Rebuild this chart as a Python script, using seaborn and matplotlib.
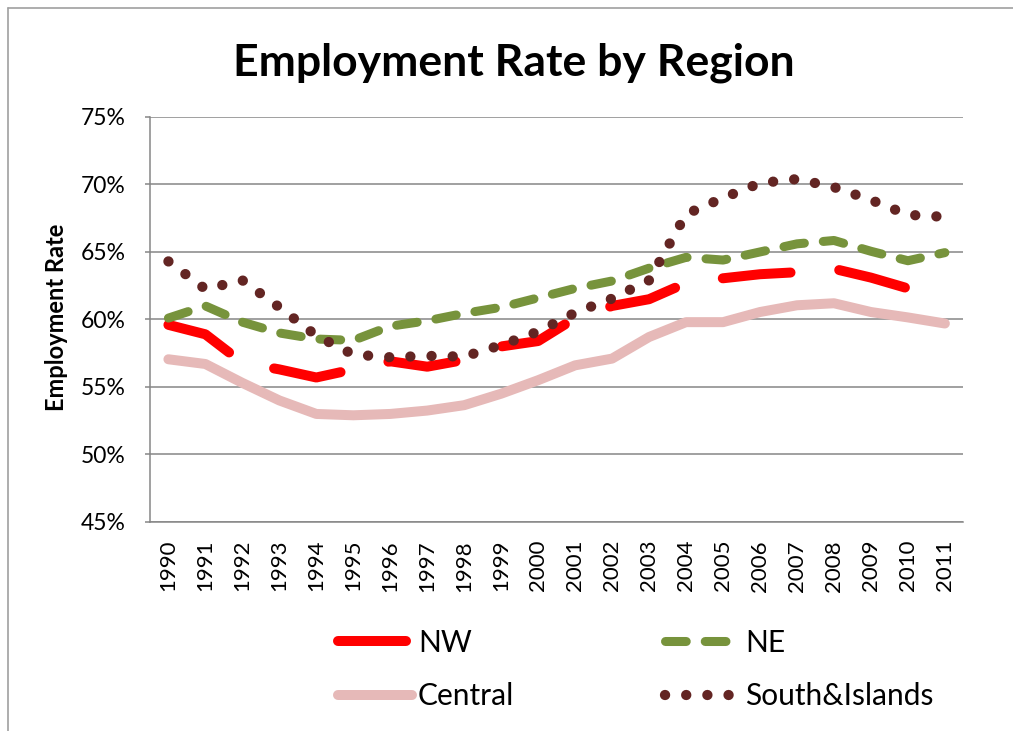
import matplotlib
matplotlib.use("Agg")
import matplotlib.pyplot as plt
import pandas as pd
import seaborn as sns
from matplotlib.lines import Line2D
from matplotlib.ticker import PercentFormatter


YEARS = list(range(1990, 2012))
NW = [59.6, 58.9, 56.8, 56.3, 55.7, 56.3, 56.9, 56.5, 57.0, 58.0, 58.4,
      60.1, 61.0, 61.5, 62.7, 63.05, 63.35, 63.5, 63.75, 63.1, 62.3, 62.0]
NE = [60.1, 61.0, 59.8, 59.0, 58.55, 58.45, 59.5, 59.9, 60.45, 60.9, 61.6,
      62.3, 62.85, 63.8, 64.6, 64.4, 65.0, 65.6, 65.85, 65.05, 64.35, 64.95]
CENTRAL = [57.05, 56.7, 55.3, 54.0, 53.0, 52.9, 53.0, 53.25, 53.65, 54.5, 55.5,
           56.6, 57.1, 58.7, 59.8, 59.8, 60.55, 61.05, 61.2, 60.55, 60.15, 59.7]
SOUTH = [64.3, 62.25, 62.9, 60.9, 58.8, 57.4, 57.2, 57.3, 57.25, 58.1, 59.1,
         60.5, 61.55, 62.9, 67.8, 69.0, 70.1, 70.4, 69.8, 68.85, 67.75, 67.6]

SERIES = ["NW", "NE", "Central", "South&Islands"]
Y_TICKS = [45, 50, 55, 60, 65, 70, 75]

GRID = "#868686"


def build_frame() -> pd.DataFrame:
    df = pd.DataFrame({"year": YEARS, "NW": NW, "NE": NE,
                       "Central": CENTRAL, "South&Islands": SOUTH})
    return df.melt(id_vars="year", var_name="region", value_name="rate")


def main() -> None:
    sns.set_theme(style="white")
    plt.rcParams["font.family"] = ["Lato", "DejaVu Sans"]
    plt.rcParams["text.color"] = "black"

    df = build_frame()
    fig = plt.figure(figsize=(10.13, 7.31), dpi=100)
    ax = fig.add_axes([0.148, 0.286, 0.803, 0.554])

    styles = {
        "NW": dict(color="#FF0000", linewidth=7.2, linestyle=(0, (6.8, 4.9))),
        "NE": dict(color="#77933C", linewidth=6.5, linestyle=(0, (2.3, 2.1))),
        "Central": dict(color="#E6B9B8", linewidth=7.2, linestyle="-"),
        "South&Islands": dict(color="#632523", linewidth=7.4, linestyle=(0, (0.01, 2.05))),
    }
    handles = {}
    for name in SERIES:
        sub = df[df["region"] == name]
        sns.lineplot(data=sub, x="year", y="rate", ax=ax, sort=False,
                     dash_capstyle="round", solid_capstyle="round",
                     solid_joinstyle="round", dash_joinstyle="round",
                     **styles[name])
        handles[name] = ax.lines[-1]

    ax.set_xlim(1989.5, 2011.5)
    ax.set_ylim(45, 75)
    ax.set_yticks(Y_TICKS)
    ax.yaxis.set_major_formatter(PercentFormatter(decimals=0))
    ax.set_xticks(YEARS)
    ax.set_xticklabels([str(y) for y in YEARS], rotation=90)
    ax.grid(axis="y", color=GRID, linewidth=1.1)
    ax.set_axisbelow(True)
    for side in ["top", "right"]:
        ax.spines[side].set_visible(False)
    for side in ["left", "bottom"]:
        ax.spines[side].set_color(GRID)
        ax.spines[side].set_linewidth(1.1)
    ax.tick_params(axis="y", length=3.6, width=1.1, color=GRID, pad=14,
                   labelsize=16.5, labelcolor="black", left=True)
    ax.tick_params(axis="x", length=0, pad=13, labelsize=16, labelcolor="black")
    ax.set_xlabel("")
    ax.set_ylabel("")

    fig.text(0.507, 0.897, "Employment Rate by Region", ha="center",
             va="baseline", fontsize=32, fontweight="bold", color="black")
    fig.text(0.056, 0.566, "Employment Rate", rotation=90, ha="center",
             va="center", fontsize=17, fontweight="bold", color="black")

    order = ["NW", "Central", "NE", "South&Islands"]
    fig.legend([handles[n] for n in order], order, ncol=2, frameon=False,
               loc="upper left", bbox_to_anchor=(0.3337, 0.140),
               borderpad=0, borderaxespad=0, fontsize=21.5,
               handlelength=2.48, handletextpad=0.2, columnspacing=5.05,
               labelspacing=0.85)

    # chart-area border (top and left edges visible in the crop)
    fig.add_artist(Line2D([8 / 1013, 1.0], [1 - 8 / 731, 1 - 8 / 731],
                          transform=fig.transFigure, color="#A0A0A0", linewidth=1.2))
    fig.add_artist(Line2D([8 / 1013, 8 / 1013], [0.0, 1 - 8 / 731],
                          transform=fig.transFigure, color="#A0A0A0", linewidth=1.2))

    fig.savefig("out.png", dpi=100)
    plt.close(fig)


if __name__ == "__main__":
    main()
